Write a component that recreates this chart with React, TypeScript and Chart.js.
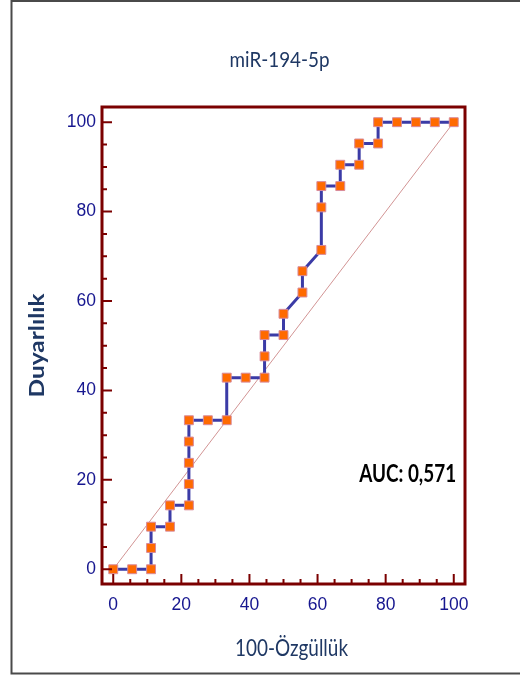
import React, { useEffect, useRef } from 'react';
import { Chart, registerables } from 'chart.js';

Chart.register(...registerables);

// 100 - specificity (%) for each ROC step
const falsePositiveRate = [0, 5.56, 11.11, 11.11, 11.11, 16.67, 16.67, 22.22, 22.22, 22.22, 22.22, 22.22, 27.78, 33.33, 33.33, 38.89, 44.44, 44.44, 44.44, 50, 50, 55.56, 55.56, 61.11, 61.11, 61.11, 66.67, 66.67, 72.22, 72.22, 77.78, 77.78, 83.33, 88.89, 94.44, 100];
// sensitivity (%) for each ROC step
const sensitivity = [0, 0, 0, 4.76, 9.52, 9.52, 14.29, 14.29, 19.05, 23.81, 28.57, 33.33, 33.33, 33.33, 42.86, 42.86, 42.86, 47.62, 52.38, 52.38, 57.14, 61.9, 66.67, 71.43, 80.95, 85.71, 85.71, 90.48, 90.48, 95.24, 95.24, 100, 100, 100, 100, 100];
const diagonalX = [0, 100];
const diagonalY = [0, 100];
const majorTicks = [0, 20, 40, 60, 80, 100];
const minorTicks = [5, 10, 15, 25, 30, 35, 45, 50, 55, 65, 70, 75, 85, 90, 95];

const chartTitle = 'miR-194-5p';
const xTitle = '100-Özgüllük';
const yTitle = 'Duyarlılık';
const aucLabel = 'AUC: 0,571';

const NAVY = '#1f3864';
const TICK_TEXT = '#16168f';
const FRAME = '#7b0000';

function drawFitted(ctx: CanvasRenderingContext2D, text: string, x: number, y: number, width: number, font: string, align: 'left' | 'center' | 'right', color: string, rotate = false) {
  ctx.save();
  ctx.font = font;
  ctx.fillStyle = color;
  ctx.textBaseline = 'alphabetic';
  const w = ctx.measureText(text).width;
  const sx = width / w;
  ctx.translate(x, y);
  if (rotate) ctx.rotate(-Math.PI / 2);
  ctx.scale(sx, 1);
  ctx.textAlign = align;
  ctx.fillText(text, 0, 0);
  ctx.restore();
}

const decorPlugin = {
  id: 'decor',
  beforeDraw(chart: any) {
    const ctx = chart.ctx as CanvasRenderingContext2D;
    ctx.save();
    ctx.strokeStyle = '#4a4a4a';
    ctx.lineWidth = 2;
    ctx.beginPath();
    ctx.moveTo(600, 1);
    ctx.lineTo(11.5, 1);
    ctx.lineTo(11.5, 673.5);
    ctx.lineTo(600, 673.5);
    ctx.stroke();
    ctx.restore();
  },
  afterDraw(chart: any) {
    const ctx = chart.ctx as CanvasRenderingContext2D;
    const { left, right, top, bottom } = chart.chartArea;
    const xs = chart.scales.x;
    const ys = chart.scales.y;
    ctx.save();
    ctx.strokeStyle = FRAME;
    ctx.lineWidth = 2;
    ctx.beginPath();
    majorTicks.forEach((v) => {
      const px = xs.getPixelForValue(v);
      ctx.moveTo(px, bottom); ctx.lineTo(px, bottom - 10);
      const py = ys.getPixelForValue(v);
      ctx.moveTo(left, py); ctx.lineTo(left + 10, py);
    });
    minorTicks.forEach((v) => {
      const px = xs.getPixelForValue(v);
      ctx.moveTo(px, bottom); ctx.lineTo(px, bottom - 5);
      const py = ys.getPixelForValue(v);
      ctx.moveTo(left, py); ctx.lineTo(left + 5, py);
    });
    ctx.stroke();
    ctx.lineWidth = 3;
    ctx.strokeRect(left, top, right - left, bottom - top);
    ctx.restore();

    const cx = (left + right) / 2;
    drawFitted(ctx, chartTitle, cx - 4, 67, 100, '22px Lato', 'center', NAVY);
    drawFitted(ctx, xTitle, cx + 8, 656, 113, '23px Lato', 'center', NAVY);
    drawFitted(ctx, yTitle, 44, (top + bottom) / 2, 104, 'bold 21px Lato', 'center', NAVY, true);
    drawFitted(ctx, aucLabel, xs.getPixelForValue(100.7), 482, 97, 'bold 25px Lato', 'right', '#000000');
  },
};

export default function App() {
  const canvasRef = useRef<HTMLCanvasElement | null>(null);

  useEffect(() => {
    if (!canvasRef.current) return;
    const rocPoints = falsePositiveRate.map((x, i) => ({ x, y: sensitivity[i] }));
    const diagPoints = diagonalX.map((x, i) => ({ x, y: diagonalY[i] }));
    const chart = new Chart(canvasRef.current, {
      type: 'scatter',
      data: {
        datasets: [
          {
            label: 'ROC',
            data: rocPoints,
            showLine: true,
            borderColor: '#3b3ba6',
            borderWidth: 3,
            pointStyle: 'rect',
            pointRadius: 6.3,
            pointBackgroundColor: '#ff6a00',
            pointBorderColor: '#d88a9a',
            pointBorderWidth: 1,
            order: 1,
          },
          {
            label: 'Reference',
            data: diagPoints,
            showLine: true,
            borderColor: '#d29494',
            borderWidth: 1,
            pointRadius: 0,
            order: 2,
          },
        ],
      },
      options: {
        animation: false,
        responsive: true,
        maintainAspectRatio: false,
        layout: { padding: { top: 107, right: 55, left: 0, bottom: 0 } },
        plugins: {
          legend: { display: false },
          title: { display: false },
          tooltip: { enabled: false },
        },
        scales: {
          x: {
            type: 'linear',
            min: -3.3,
            max: 103.3,
            afterBuildTicks: (s: any) => { s.ticks = majorTicks.map((v) => ({ value: v })); },
            afterFit: (s: any) => { s.height = 93; },
            grid: { display: false, drawTicks: false },
            border: { display: false },
            ticks: {
              padding: 11,
              color: TICK_TEXT,
              font: { family: '"Liberation Sans Narrow", "Liberation Sans", Arial', size: 17.5 },
              maxRotation: 0,
            },
          },
          y: {
            type: 'linear',
            min: -3.3,
            max: 103.4,
            afterBuildTicks: (s: any) => { s.ticks = majorTicks.map((v) => ({ value: v })); },
            afterFit: (s: any) => { s.width = 102; },
            grid: { display: false, drawTicks: false },
            border: { display: false },
            ticks: {
              padding: 6,
              color: TICK_TEXT,
              font: { family: '"Liberation Sans Narrow", "Liberation Sans", Arial', size: 17.5 },
            },
          },
        },
      },
      plugins: [decorPlugin],
    });
    return () => chart.destroy();
  }, []);

  return (
    <div style={{ position: 'fixed', left: 0, top: 0, width: 520, height: 677, background: '#ffffff' }}>
      <canvas ref={canvasRef} />
    </div>
  );
}
